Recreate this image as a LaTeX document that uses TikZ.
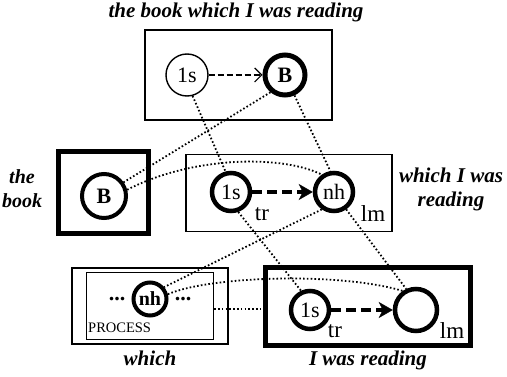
\documentclass[tikz,border=0pt]{standalone}
\usepackage{fontspec}
\setmainfont{Liberation Serif}
\usetikzlibrary{arrows.meta}

\begin{document}
\begin{tikzpicture}[x=1pt,y=-1pt,
    thinframe/.style={draw,line width=1.3pt,inner sep=0pt},
    thickframe/.style={draw,line width=5pt,inner sep=0pt},
    thinring/.style={draw,circle,line width=1.4pt,minimum size=42pt,inner sep=0pt,font=\fontsize{22}{22}\selectfont},
    thickring/.style={draw,circle,line width=4.5pt,minimum size=38pt,inner sep=0pt,font=\fontsize{22}{22}\selectfont},
    role/.style={font=\fontsize{23}{23}\selectfont,inner sep=0pt},
    caption/.style={font=\fontsize{21}{24}\selectfont\bfseries\itshape,align=center,inner sep=0pt},
    link/.style={line width=1.8pt,dash pattern=on 1.6pt off 2.2pt},
    sketch/.style={line width=1.2pt,dash pattern=on 6pt off 3pt,-{Straight Barb[length=7pt,width=14pt]}},
    profile/.style={line width=4pt,dash pattern=on 10pt off 5pt,-{Stealth[length=14pt,width=16pt,inset=4pt,line width=0.5pt]}}]
    \useasboundingbox (0,0) rectangle (507,377);

    % Composite structure
    \node[caption] (toptitle) at (236,12) {the book which I was reading};
    \node[thinframe,line width=2pt,minimum width=187pt,minimum height=90pt] (topbox) at (238,75) {};
    \node[thinring] (top1s) at (187,75) {1s};
    \node[thickring,line width=5pt,minimum size=40pt,font=\fontsize{22}{22}\selectfont\bfseries] (topB) at (285,75) {B};
    \draw[sketch] (top1s) -- (topB);

    % the book
    \node[caption,font=\fontsize{20}{24}\selectfont\bfseries\itshape] (booktitle) at (22,189) {the\\book};
    \node[thickframe,minimum width=90pt,minimum height=82pt] (bookbox) at (103,193) {};
    \node[thickring,line width=4pt,minimum size=44pt,font=\fontsize{22}{22}\selectfont\bfseries] (leftB) at (104,196) {B};

    % which I was reading
    \node[caption] (reltitle) at (451,189) {which I was\\reading};
    \node[thinframe,minimum width=206pt,minimum height=77pt] (relbox) at (289,193) {};
    \node[thickring] (mid1s) at (231,192) {1s};
    \node[thickring] (midnh) at (334,192) {nh};
    \node[role] (midtr) at (262,214) {tr};
    \node[role] (midlm) at (373,214) {lm};
    \draw[profile] (mid1s) -- (midnh);

    % which
    \node[caption] (whichtitle) at (150,358) {which};
    \node[thinframe,minimum width=156pt,minimum height=76pt] (whichbox) at (150,306) {};
    \node[thinframe,minimum width=127pt,minimum height=67pt] (procbox) at (150,306) {};
    \node[thickring,line width=4pt,minimum size=33pt,font=\fontsize{20}{20}\selectfont\bfseries] (blnh) at (150,299) {nh};
    \node[font=\fontsize{22}{22}\selectfont\bfseries,inner sep=0pt] (dotsl) at (117,299) {...};
    \node[font=\fontsize{22}{22}\selectfont\bfseries,inner sep=0pt] (dotsr) at (183,299) {...};
    \node[font=\fontsize{14.5}{15}\selectfont,inner sep=0pt,anchor=west] (proc) at (88,328) {PROCESS};

    % I was reading
    \node[caption] (clausetitle) at (368,360) {I was reading};
    \node[thickframe,minimum width=205pt,minimum height=78pt] (clausebox) at (368,307) {};
    \node[thickring] (br1s) at (310,310) {1s};
    \node[thickring,minimum size=42pt] (brE) at (416,310) {};
    \node[role] (brtr) at (335,331) {tr};
    \node[role] (brlm) at (452,331) {lm};
    \draw[profile] (br1s) -- (brE);

    % Correspondences
    \draw[link] (top1s.-75) -- (mid1s.105);
    \draw[link] (topB.-130) -- (leftB.35);
    \draw[link] (topB.-65) -- (midnh.100);
    \draw[link] (leftB.15) .. controls (190,157) and (280,154) .. (midnh.125);
    \draw[link] (mid1s.-70) -- (br1s.115);
    \draw[link] (midnh.-125) -- (blnh.40);
    \draw[link] (midnh.-55) -- (brE.115);
    \draw[link] (blnh.15) .. controls (210,276) and (340,272) .. (brE.125);
    \draw[link] (procbox.-3.6) -- (procbox.-3.6 -| clausebox.west);
\end{tikzpicture}
\end{document}
